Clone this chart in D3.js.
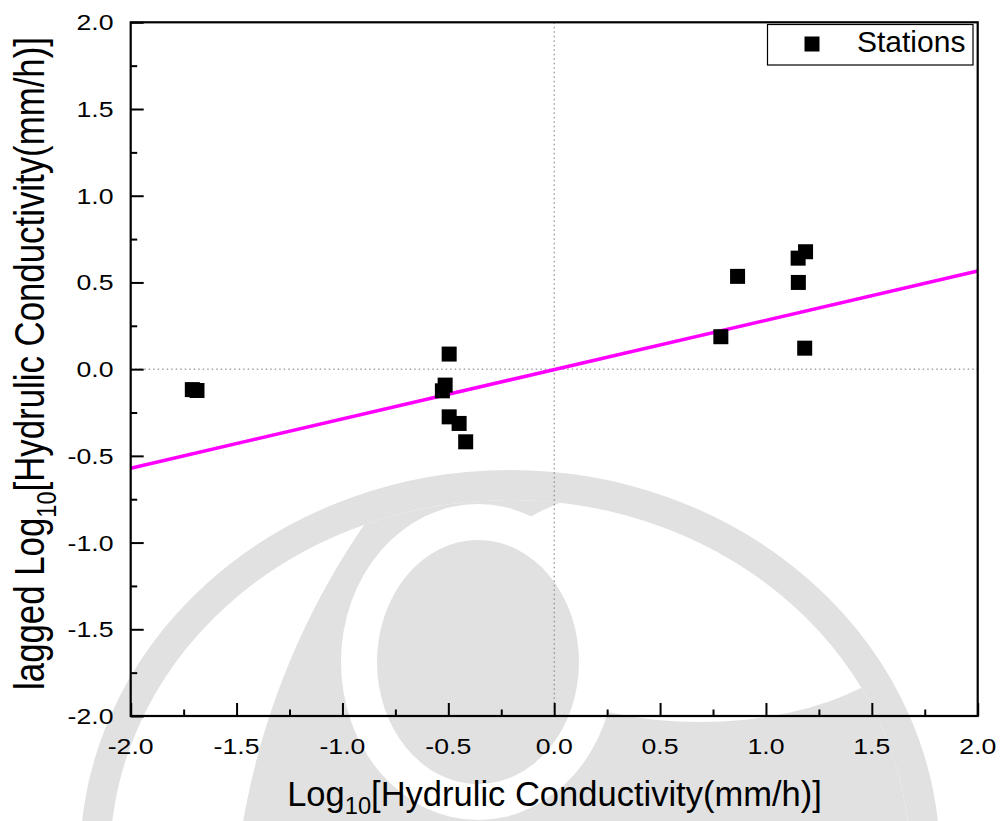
<!DOCTYPE html>
<html><head><meta charset="utf-8">
<script src="https://cdn.jsdelivr.net/npm/d3@7"></script>
<style>
html,body{margin:0;padding:0;background:#fff;}
svg{display:block;font-family:Arial,"Liberation Sans",Helvetica,sans-serif;}
</style>
</head><body>
<svg id="c" width="1003" height="821"></svg>
<script>
// ---- data ----
const stationX = [-1.709, -1.687, -0.496, -0.515, -0.528, -0.496, -0.449, -0.418, 0.787, 0.866, 1.152, 1.153, 1.187, 1.183];
const stationY = [-0.118, -0.123, 0.087, -0.092, -0.125, -0.275, -0.313, -0.419, 0.187, 0.535, 0.640, 0.500, 0.677, 0.121];
const fitX = [-2, 2];
const fitY = [-0.571, 0.566];
const xMajor = [-2, -1.5, -1, -0.5, 0, 0.5, 1, 1.5, 2];
const yMajor = [-2, -1.5, -1, -0.5, 0, 0.5, 1, 1.5, 2];
const xMinor = [-1.75, -1.25, -0.75, -0.25, 0.25, 0.75, 1.25, 1.75];
const yMinor = [-1.75, -1.25, -0.75, -0.25, 0.25, 0.75, 1.25, 1.75];
const seriesName = "Stations";

const svg = d3.select("#c");
const L = 130.7, R = 977.7, T = 22.3, B = 716;
const x = d3.scaleLinear().domain([-2, 2]).range([L, R]);
const y = d3.scaleLinear().domain([-2, 2]).range([B, T]);

// ---- faint watermark (background) ----
const wmc = "#e1e1e1";
const defs = svg.append("defs");
defs.append("clipPath").attr("id", "inner")
  .append("ellipse").attr("cx", 510).attr("cy", 860).attr("rx", 400).attr("ry", 360);
const wm = svg.append("g");
wm.append("circle").attr("cx", 982).attr("cy", 950).attr("r", 750)
  .attr("fill", wmc).attr("clip-path", "url(#inner)");
wm.append("ellipse").attr("cx", 510).attr("cy", 860).attr("rx", 415).attr("ry", 375)
  .attr("fill", "none").attr("stroke", wmc).attr("stroke-width", 30);
const wi = wm.append("g").attr("clip-path", "url(#inner)");
wi.append("ellipse").attr("cx", 700).attr("cy", 600).attr("rx", 232).attr("ry", 122).attr("fill", "#fff");
wi.append("ellipse").attr("cx", 478).attr("cy", 662).attr("rx", 137).attr("ry", 158).attr("fill", "#fff");
wm.append("ellipse").attr("cx", 478).attr("cy", 662).attr("rx", 101).attr("ry", 122).attr("fill", wmc);

// ---- zero reference lines ----
svg.append("line").attr("x1", x(0)).attr("x2", x(0)).attr("y1", T).attr("y2", B)
  .attr("stroke", "#777").attr("stroke-width", 1).attr("stroke-dasharray", "1.5,3");
svg.append("line").attr("x1", L).attr("x2", R).attr("y1", y(0)).attr("y2", y(0))
  .attr("stroke", "#777").attr("stroke-width", 1).attr("stroke-dasharray", "1.5,3");

// ---- axes ticks ----
function styleAxis(g) {
  g.select(".domain").remove();
  g.selectAll(".tick line").attr("stroke", "#000").attr("stroke-width", 2);
  g.selectAll(".tick text").remove();
}
svg.append("g").attr("transform", `translate(0,${B})`)
  .call(d3.axisBottom(x).tickValues(xMajor).tickSize(-13).tickFormat("")).call(styleAxis);
svg.append("g").attr("transform", `translate(0,${B})`)
  .call(d3.axisBottom(x).tickValues(xMinor).tickSize(-6.5).tickFormat("")).call(styleAxis);
svg.append("g").attr("transform", `translate(${L},0)`)
  .call(d3.axisLeft(y).tickValues(yMajor).tickSize(-13).tickFormat("")).call(styleAxis);
svg.append("g").attr("transform", `translate(${L},0)`)
  .call(d3.axisLeft(y).tickValues(yMinor).tickSize(-6.5).tickFormat("")).call(styleAxis);

// tick labels
const fmt = v => v.toFixed(1);
const tfs = 21.5, tsx = 1.24;
svg.append("g").selectAll("text").data(xMajor).join("text")
  .attr("transform", d => `translate(${x(d)},754) scale(${tsx},1)`)
  .attr("text-anchor", "middle").attr("font-size", tfs).attr("fill", "#000").text(fmt);
svg.append("g").selectAll("text").data(yMajor).join("text")
  .attr("transform", d => `translate(113.5,${y(d) + 8}) scale(${tsx},1)`)
  .attr("text-anchor", "end").attr("font-size", tfs).attr("fill", "#000").text(fmt);

// ---- regression line ----
svg.append("path").datum(d3.zip(fitX, fitY))
  .attr("d", d3.line().x(d => x(d[0])).y(d => y(d[1])))
  .attr("stroke", "#ff00ff").attr("stroke-width", 3.5).attr("fill", "none");

// ---- points ----
const S = 15;
svg.append("g").selectAll("rect").data(d3.zip(stationX, stationY)).join("rect")
  .attr("x", d => x(d[0]) - S / 2).attr("y", d => y(d[1]) - S / 2)
  .attr("width", S).attr("height", S).attr("fill", "#000");

// ---- frame ----
svg.append("rect").attr("x", L).attr("y", T).attr("width", R - L).attr("height", B - T)
  .attr("fill", "none").attr("stroke", "#000").attr("stroke-width", 2.2);

// ---- legend ----
const lg = svg.append("g");
lg.append("rect").attr("x", 767.5).attr("y", 24.5).attr("width", 205.5).attr("height", 40.5)
  .attr("fill", "#fff").attr("stroke", "#000").attr("stroke-width", 1.2);
lg.append("rect").attr("x", 812 - S / 2).attr("y", 44 - S / 2).attr("width", S).attr("height", S).attr("fill", "#000");
lg.append("text").attr("x", 857).attr("y", 52).attr("font-size", 30).attr("fill", "#000").text(seriesName);

// ---- axis titles ----
const xt = svg.append("text").attr("text-anchor", "middle").attr("font-size", 35).attr("fill", "#000");
xt.append("tspan").text("Log");
xt.append("tspan").attr("font-size", 24).attr("dy", 8).text("10");
xt.append("tspan").attr("dy", -8).text("[Hydrulic Conductivity(mm/h)]");
xt.attr("transform", "translate(554.5,806)");
const xw = xt.node().getBBox().width;
xt.attr("transform", `translate(554.5,806) scale(${535 / xw},1)`);

const yt = svg.append("text").attr("text-anchor", "middle").attr("font-size", 34).attr("fill", "#000");
yt.append("tspan").text("lagged Log");
yt.append("tspan").attr("font-size", 23).attr("dy", 10).text("10");
yt.append("tspan").attr("dy", -10).text("[Hydrulic Conductivity(mm/h)]");
const yw = yt.node().getBBox().width;
yt.attr("transform", `translate(43.5,363.5) scale(1.23,${653 / yw}) rotate(-90)`);
</script>
</body></html>
